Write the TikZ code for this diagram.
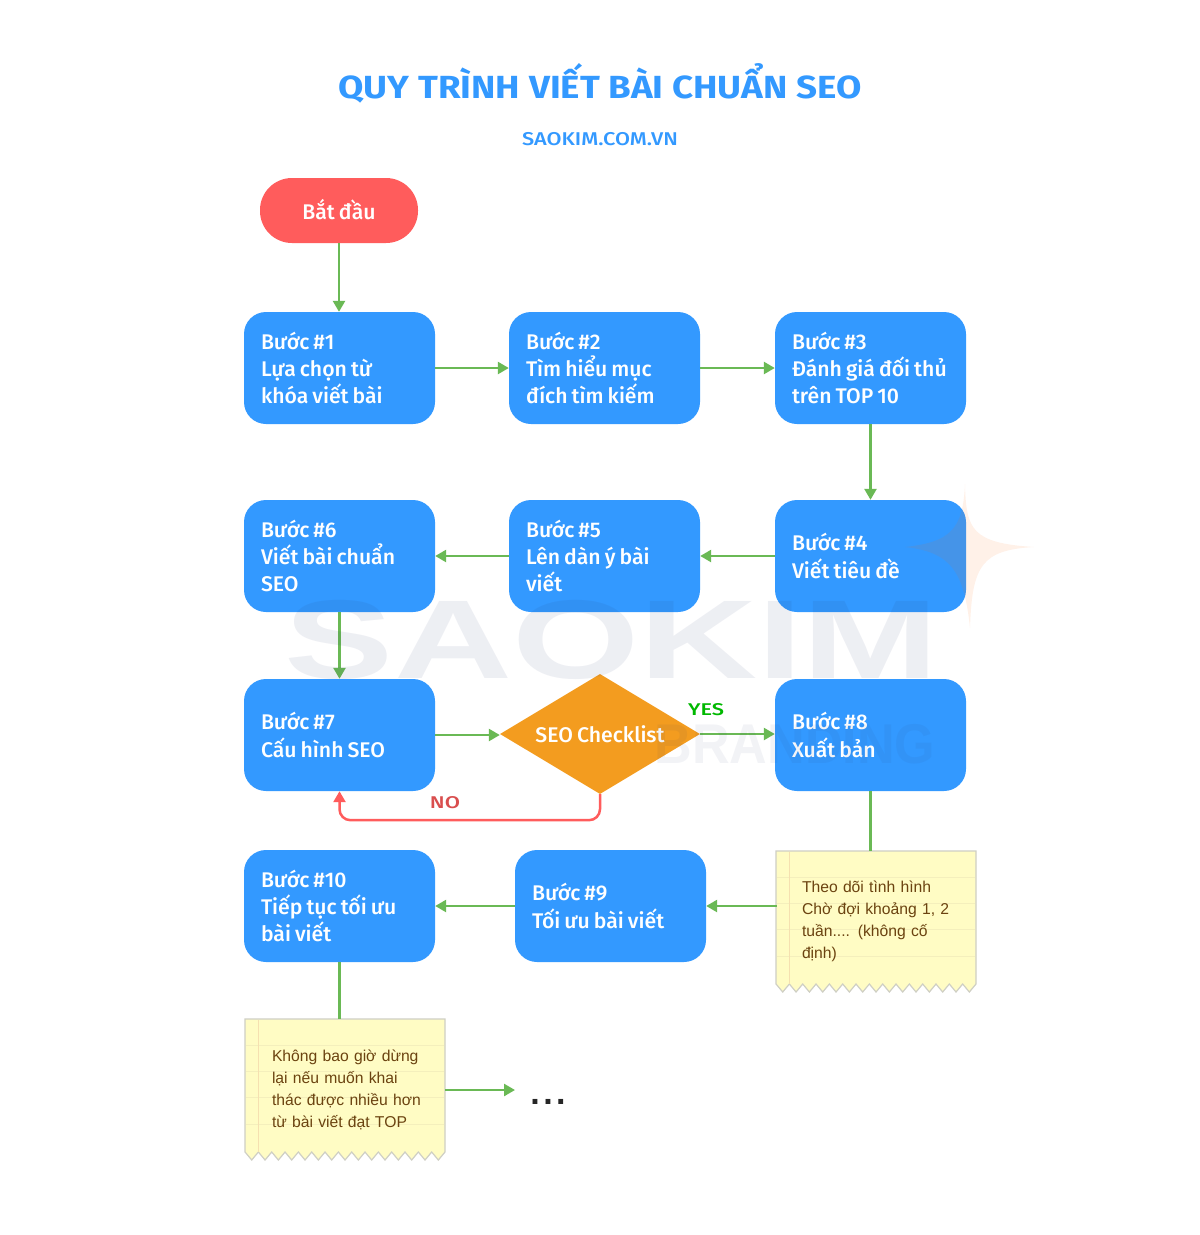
\documentclass[tikz,border=0pt]{standalone}
\usepackage{fontspec}
\usetikzlibrary{shapes.geometric,arrows.meta}
\setmainfont{Liberation Sans}
\newfontfamily\boxfont{Fira Sans}[UprightFont=* Medium]
\newfontfamily\headfont{Fira Sans}[UprightFont=* Bold]
\newfontfamily\subfont{Fira Sans}[UprightFont=* Medium]
\definecolor{blueC}{HTML}{3399FF}
\definecolor{greenC}{HTML}{6AB955}
\definecolor{redC}{HTML}{FF5C5C}
\definecolor{orangeC}{HTML}{F39C1F}
\definecolor{noteC}{HTML}{FFFCC4}
\definecolor{noteLine}{HTML}{F4EFBC}
\definecolor{noteMargin}{HTML}{F5E0B0}
\definecolor{noteEdge}{HTML}{CFCFC4}
\definecolor{noteText}{HTML}{6B4310}
\definecolor{markC}{HTML}{26346E}
\tikzset{
  stepbox/.style={rectangle,rounded corners=22pt,fill=blueC,text=white,minimum width=191pt,minimum height=112pt,
    inner xsep=17pt,inner ysep=0pt,text width=157pt,align=left,
    font={\boxfont\fontsize{21.2}{27.2}\selectfont},
    execute at begin node={\spaceskip=0.19em\relax}},
  startbox/.style={rectangle,rounded corners=32pt,fill=redC,text=white,minimum width=158pt,minimum height=65pt,
    font={\boxfont\fontsize{21.2}{26}\selectfont},execute at begin node={\spaceskip=0.19em\relax}},
  checkbox/.style={diamond,aspect=1.667,fill=orangeC,text=white,minimum width=200pt,minimum height=120pt,inner sep=0pt,
    font={\boxfont\fontsize{21.2}{26}\selectfont},execute at begin node={\spaceskip=0.19em\relax}},
  notetext/.style={rectangle,minimum width=200pt,inner xsep=25pt,inner ysep=0pt,text width=150pt,align=left,
    text=noteText,font=\fontsize{15.7}{22}\selectfont},
  flow/.style={draw=greenC,line width=2.5pt,-{Triangle[length=11pt,width=12pt]}},
  plainflow/.style={draw=greenC,line width=2.5pt},
  backflow/.style={draw=redC,line width=2.5pt,rounded corners=11pt,-{Triangle[length=11pt,width=12pt]}},
  marktext/.style={text=markC,text opacity=0.08,inner sep=0pt,font=\fontsize{112}{112}\selectfont\bfseries},
}
\newcommand{\paperbg}[2]{% top-left x, y
  \begin{scope}[shift={(#1,#2)}]
    \path[fill=noteC,draw=noteEdge,line width=1.2pt]
      (0,0) -- (200,0) -- (200,133)
      \foreach \k in {1,...,15} { -- ++(-6.67,8) -- ++(-6.66,-8) } -- cycle;
    \foreach \yy in {26,52,78,105} \draw[noteLine,line width=0.9pt] (1,\yy) -- (199,\yy);
    \draw[noteMargin,line width=0.9pt] (13,1) -- (13,133);
  \end{scope}}
\begin{document}
\begin{tikzpicture}[x=1pt,y=-1pt]
\useasboundingbox (0,0) rectangle (1200,1235);
\fill[white] (0,0) rectangle (1200,1235);

\node[text=blueC,font=\headfont\fontsize{32}{36}\selectfont,xscale=1.148] (title) at (600,83) {QUY TRÌNH VIẾT BÀI CHUẨN SEO};
\node[text=blueC,font=\subfont\fontsize{18.5}{22}\selectfont,xscale=1.175] (sub) at (600,139) {SAOKIM.COM.VN};

\paperbg{776}{851}
\paperbg{245}{1019}

\node[startbox] (start) at (339,210.5) {\raisebox{1.5pt}{Bắt đầu}};
\node[stepbox] (b1) at (339.5,368) {Bước \#1\\Lựa chọn từ\\khóa viết bài};
\node[stepbox] (b2) at (604.5,368) {Bước \#2\\Tìm hiểu mục\\đích tìm kiếm};
\node[stepbox] (b3) at (870.5,368) {Bước \#3\\Đánh giá đối thủ\\trên TOP 10};
\node[stepbox] (b4) at (870.5,556) {Bước \#4\\Viết tiêu đề};
\node[stepbox] (b5) at (604.5,556) {Bước \#5\\Lên dàn ý bài\\viết};
\node[stepbox] (b6) at (339.5,556) {Bước \#6\\Viết bài chuẩn\\SEO};
\node[stepbox] (b7) at (339.5,735) {Bước \#7\\Cấu hình SEO};
\node[checkbox] (check) at (600,734) {SEO Checklist};
\node[stepbox] (b8) at (870.5,735) {Bước \#8\\Xuất bản};
\node[stepbox] (b9) at (610.5,906) {Bước \#9\\Tối ưu bài viết};
\node[stepbox] (b10) at (339.5,906) {Bước \#10\\Tiếp tục tối ưu\\bài viết};
\node[notetext,minimum height=141pt] (n1) at (877,921.5) {Theo dõi tình hình\\Chờ đợi khoảng 1, 2\\tuần.... (không cố\\định)};
\node[notetext,minimum height=142pt] (n2) at (347,1090) {Không bao giờ dừng\\lại nếu muốn khai\\thác được nhiều hơn\\từ bài viết đạt TOP};
\node[font=\bfseries\fontsize{34}{34}\selectfont,text=black!85,inner sep=0pt] (dots) at (548,1102) {.\kern3.4pt.\kern3.4pt.};
\coordinate (dotsin) at (515,1090);

\node[text=redC!85!black,font=\subfont\fontsize{17}{20}\selectfont,xscale=1.3] (nolab) at (445,803) {NO};
\node[text=green!72!black,font=\subfont\fontsize{17}{20}\selectfont,xscale=1.28] (yeslab) at (706,710) {YES};

\draw[flow] (start) -- (start|-b1.north);
\draw[flow] (b1) -- (b2);
\draw[flow] (b2) -- (b3);
\draw[flow] (b3) -- (b4);
\draw[flow] (b4) -- (b5);
\draw[flow] (b5) -- (b6);
\draw[flow] (b6) -- (b7);
\draw[flow] (b7.east) -- (b7.east-|check.west);
\draw[flow] (check.east) -- (check.east-|b8.west);
\draw[backflow] (check.south) -- ++(0,26) -| (b7.south);
\draw[plainflow] (b8) -- (b8|-n1.north);
\draw[flow] (n1.west|-b9.east) -- (b9.east);
\draw[flow] (b9) -- (b10);
\draw[plainflow] (b10) -- (b10|-n2.north);
\draw[flow] ([xshift=-2pt]n2.east|-dotsin) -- (dotsin);

% watermark
\node[marktext,xscale=1.46] (wm1) at (612,640) {SAOKIM};
\node[marktext,text opacity=0.06,font=\fontsize{56}{56}\selectfont\bfseries,xscale=0.93] (wm2) at (795,744) {BRANDING};
\fill[orange!80!red,opacity=0.09] (965,484)
  .. controls (966,530) and (972,543) .. (1034,547)
  .. controls (982,550) and (972,565) .. (970,628)
  .. controls (964,570) and (950,552) .. (905,547)
  .. controls (950,542) and (963,530) .. (965,484) -- cycle;
\end{tikzpicture}
\end{document}
